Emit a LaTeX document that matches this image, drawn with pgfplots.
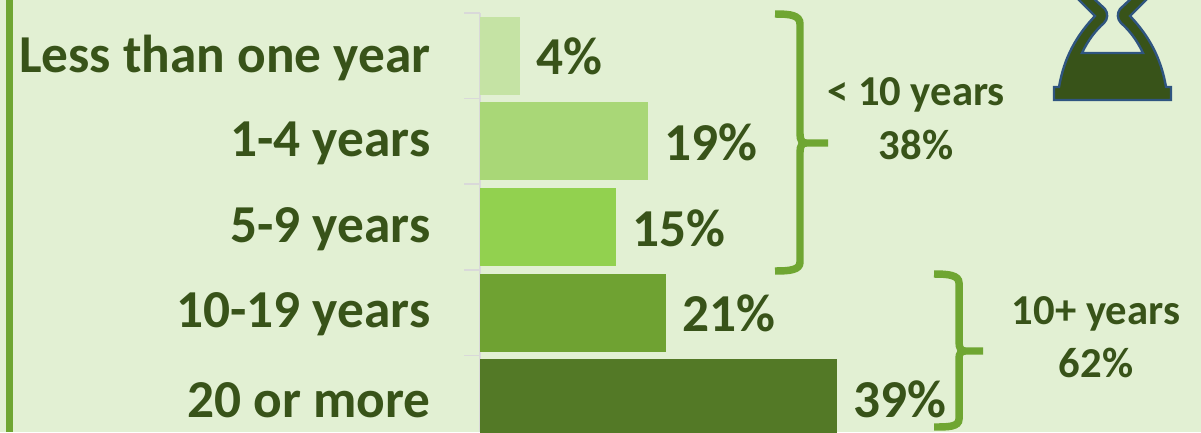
\documentclass[border=0pt]{standalone}
\usepackage{pgfplots}
\pgfplotsset{compat=1.18}
\usepackage{fontspec}
\setmainfont{Carlito}
\definecolor{bg}{HTML}{E2F0D3}
\definecolor{dk}{HTML}{385319}
\definecolor{brc}{HTML}{6FA632}
\definecolor{hgb}{HTML}{2F5580}
\definecolor{axc}{HTML}{D9D9D9}
\definecolor{b1}{HTML}{C5E3A4}
\definecolor{b2}{HTML}{A9D777}
\definecolor{b3}{HTML}{92D14F}
\definecolor{b4}{HTML}{6FA232}
\definecolor{b5}{HTML}{537926}
\begin{document}
\begin{tikzpicture}[x=0.75pt,y=-0.75pt]
\clip (0,0) rectangle (1201,432);
\fill[bg] (0,0) rectangle (1201,432);
\fill[brc] (6,0) rectangle (13,432);
\coordinate (A) at (480,432);
\begin{axis}[
  at={(A)},anchor=south west,
  scale only axis,width=540.75pt,height=314.25pt,
  xmin=0,xmax=79.23,
  ymin=-0.5,ymax=4.395,y dir=reverse,
  axis y line=left,axis x line=none,
  axis line style={axc,line width=1.5pt,-},
  ytick={0,1,2,3,4},
  yticklabels={Less than one year,1-4 years,5-9 years,10-19 years,20 or more},
  minor ytick={-0.5,0.5,1.5,2.5,3.5},
  tick align=outside,
  major tick length=0pt,
  minor tick length=12pt,
  minor tick style={axc,line width=1.2pt},
  major tick style={draw=none},
  yticklabel style={font=\bfseries\fontsize{40}{40}\selectfont,text=dk,anchor=east,xshift=-37pt,yshift=-1.5pt,inner sep=0pt},
  clip=true,
  xbar,bar width=58.5pt,bar shift=0pt,
  point meta=explicit symbolic,
  nodes near coords,
  nodes near coords style={font=\bfseries\fontsize{40}{40}\selectfont,text=dk,anchor=west,xshift=12pt,yshift=-0.7pt,inner sep=0pt},
]
\addplot[fill=b1,draw=none] coordinates {(4.4,0)[4\%]};
\addplot[fill=b2,draw=none] coordinates {(18.46,1)[19\%]};
\addplot[fill=b3,draw=none] coordinates {(14.95,2)[15\%]};
\addplot[fill=b4,draw=none] coordinates {(20.44,3)[21\%]};
\addplot[fill=b5,draw=none] coordinates {(39.2,4)[39\%]};
\end{axis}
% braces
\draw[brc,line width=5.6pt,line cap=butt]
  (775,14) .. controls (790,14) and (800,15) .. (800,24) -- (800,134)
  .. controls (800,140) and (802,143) .. (806,143) -- (828,143);
\draw[brc,line width=5.6pt,line cap=butt]
  (775,271) .. controls (790,271) and (800,270) .. (800,262) -- (800,152)
  .. controls (800,146) and (802,143) .. (806,143);
\draw[brc,line width=5.6pt,line cap=butt]
  (934,274) .. controls (948,274) and (959,275) .. (959,283) -- (959,342)
  .. controls (959,348) and (961,351) .. (965,351) -- (983,351);
\draw[brc,line width=5.6pt,line cap=butt]
  (934,427) .. controls (948,427) and (959,427) .. (959,419) -- (959,358)
  .. controls (959,354) and (961,351) .. (965,351);
\node[font=\bfseries\fontsize{32}{32}\selectfont,text=dk,inner sep=0pt,align=center] at (916,95) {< 10 years};
\node[font=\bfseries\fontsize{32}{32}\selectfont,text=dk,inner sep=0pt] at (916,145) {38\%};
\node[font=\bfseries\fontsize{32}{32}\selectfont,text=dk,inner sep=0pt] at (1096,314) {10+ years};
\node[font=\bfseries\fontsize{32}{32}\selectfont,text=dk,inner sep=0pt] at (1096,363) {62\%};
% hourglass
\filldraw[fill=dk,draw=hgb,line width=1.8pt,line join=miter]
  (1054,100) -- (1054,87) -- (1059,87)
  .. controls (1064,58) and (1076,36) .. (1095,16)
  -- (1074,-5) -- (1090,-5) -- (1105,9)
  .. controls (1108,13) and (1108,19) .. (1104,23)
  .. controls (1096,30) and (1088,40) .. (1082,53)
  -- (1143,53)
  .. controls (1137,40) and (1129,30) .. (1121,23)
  .. controls (1117,19) and (1117,13) .. (1120,9)
  -- (1135,-5) -- (1151,-5) -- (1130,16)
  .. controls (1149,36) and (1161,58) .. (1166,87)
  -- (1171,87) -- (1171,100) -- cycle;
\end{tikzpicture}
\end{document}
